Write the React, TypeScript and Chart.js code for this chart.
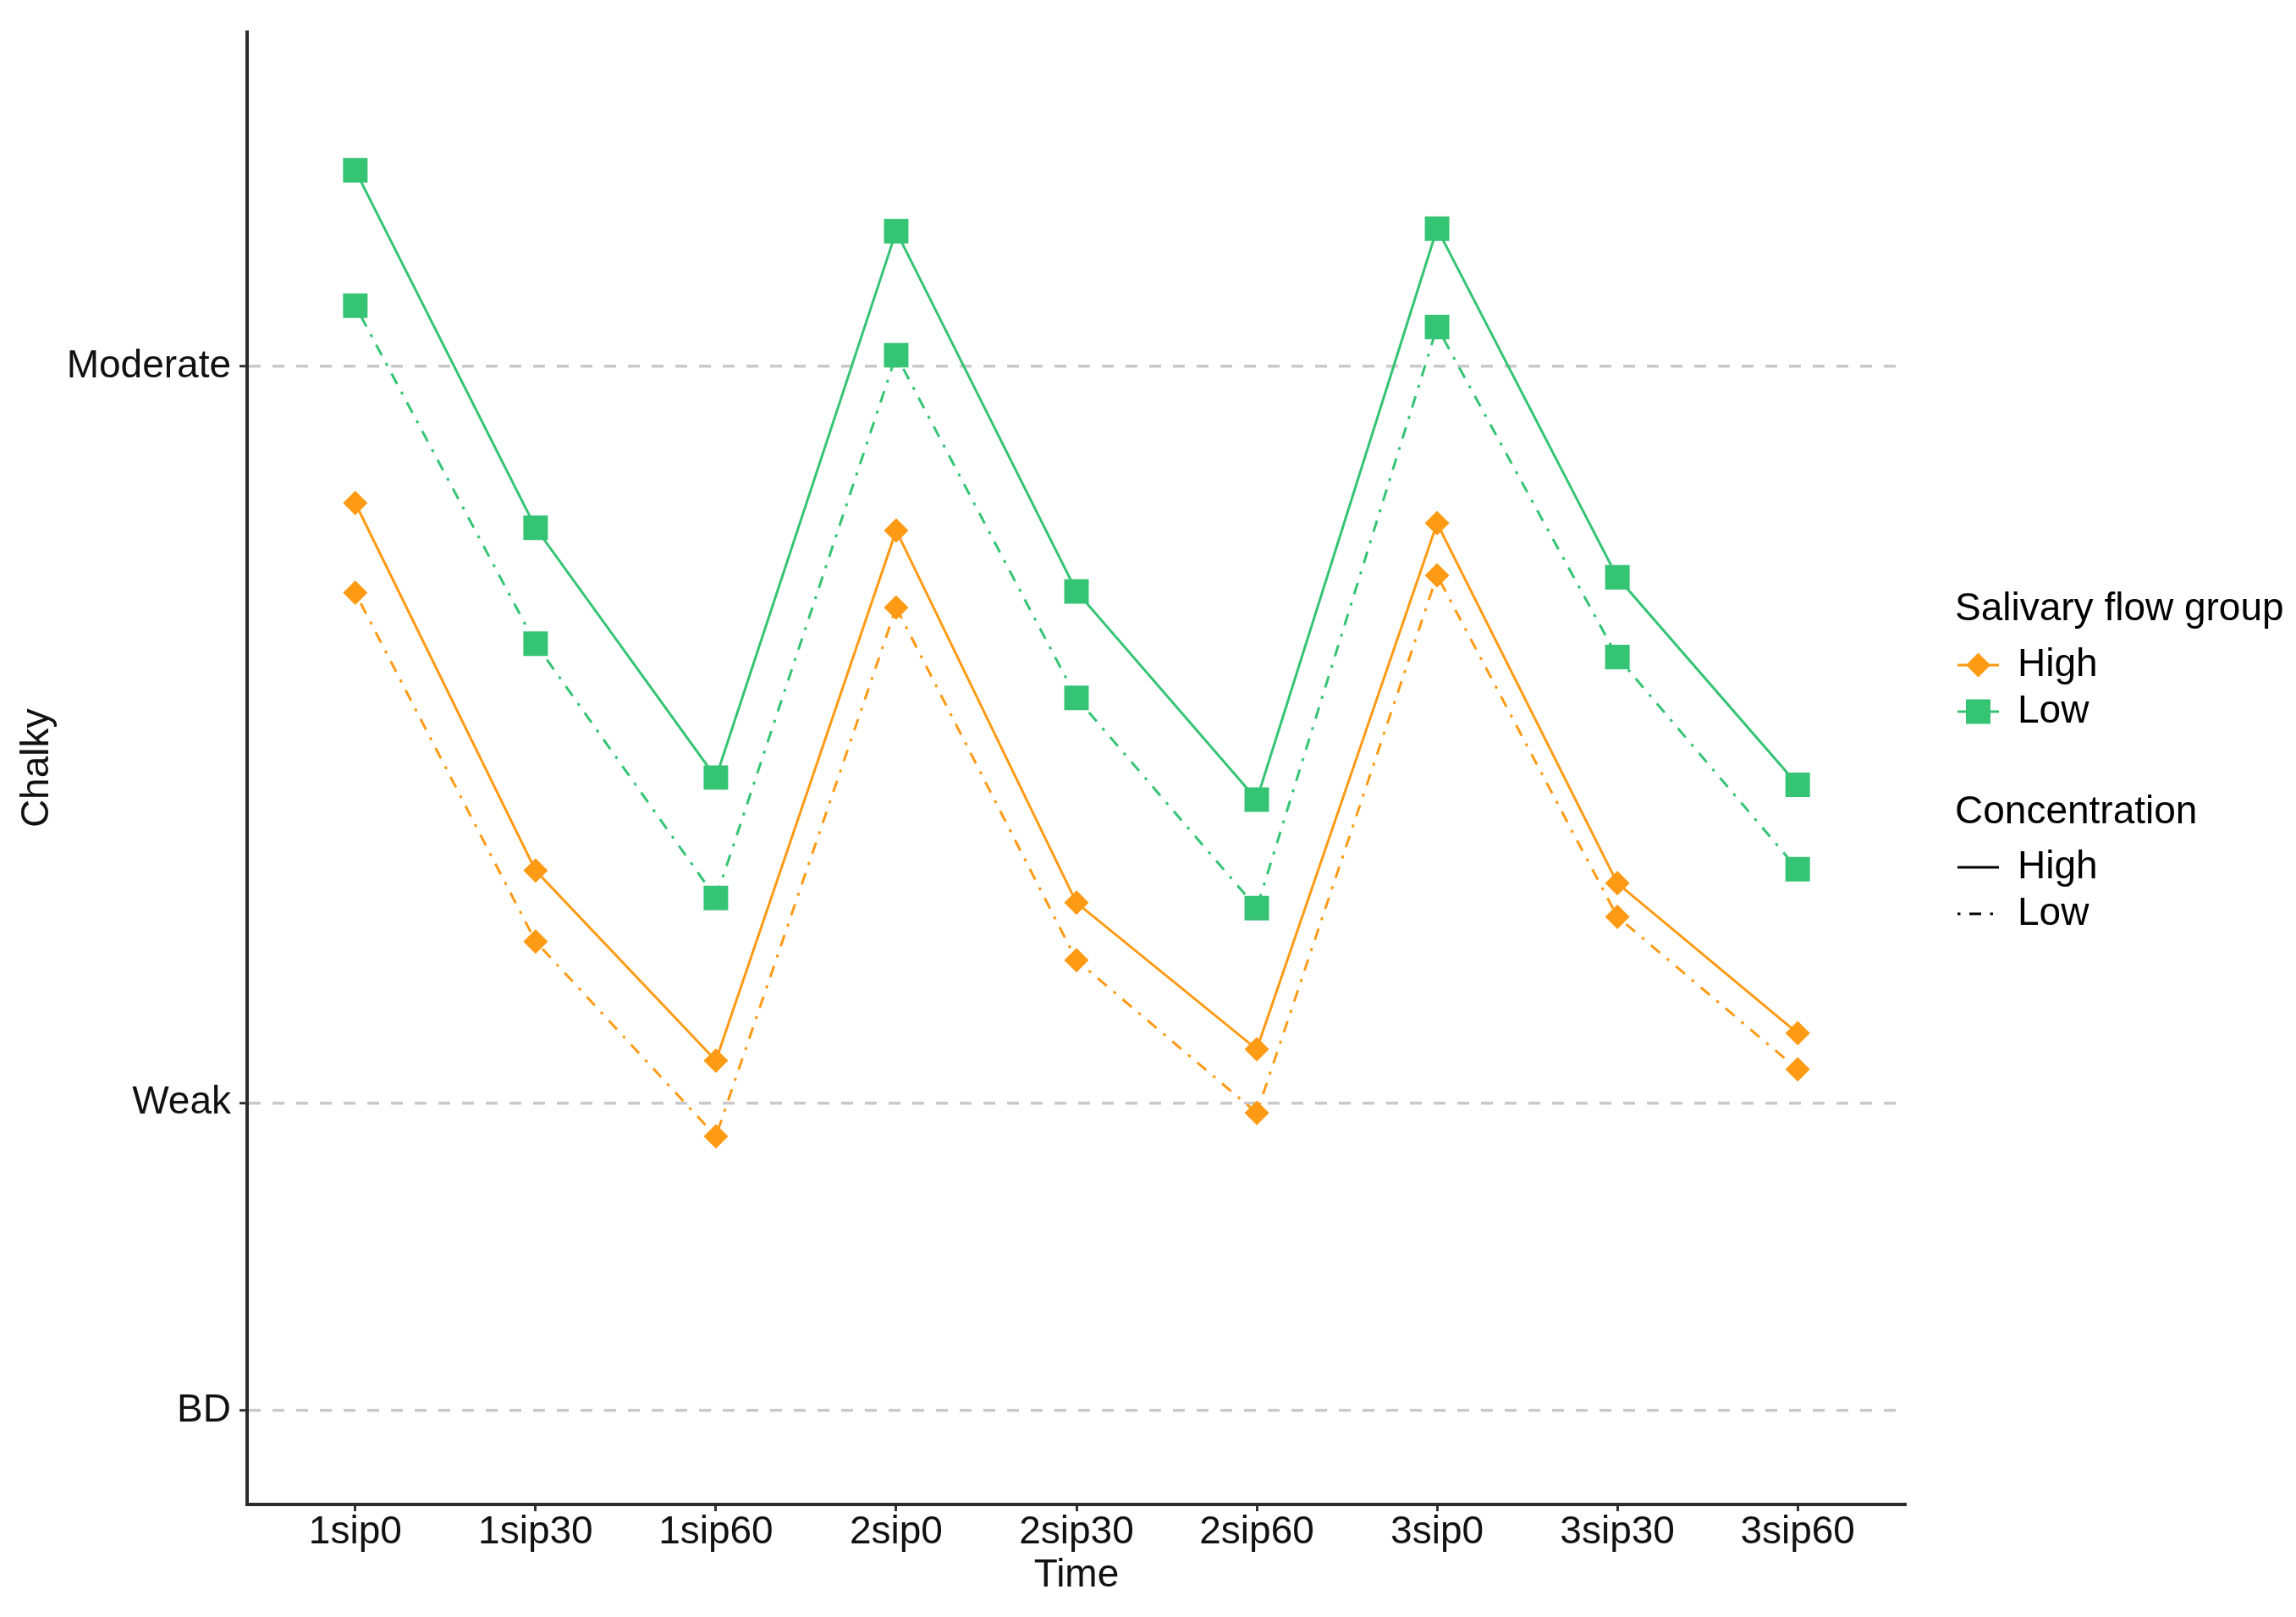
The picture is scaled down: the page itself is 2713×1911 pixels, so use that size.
import React, { useEffect, useRef } from "react";
import { Chart, registerables } from "chart.js";

Chart.register(...registerables);

const FONT = '"Liberation Sans", Arial, Helvetica, sans-serif';

const categories = ["1sip0", "1sip30", "1sip60", "2sip0", "2sip30", "2sip60", "3sip0", "3sip30", "3sip60"];
const yTickValues = [1.4, 6, 17];
const yTickLabels = ["BD", "Weak", "Moderate"];

const lowFlowHighConc = [19.93, 14.59, 10.86, 19.02, 13.64, 10.53, 19.06, 13.85, 10.75];
const lowFlowLowConc = [17.91, 12.86, 9.06, 17.17, 12.05, 8.91, 17.59, 12.66, 9.49];
const highFlowHighConc = [14.96, 9.47, 6.63, 14.55, 8.99, 6.8, 14.66, 9.28, 7.04];
const highFlowLowConc = [13.62, 8.41, 5.5, 13.4, 8.13, 5.85, 13.88, 8.78, 6.5];

const ORANGE = "#FF9A14";
const GREEN = "#35C474";
const DOTDASH = [3.5, 10.5, 14, 10.5];

const toPoints = (vals: number[]) => vals.map((v, i) => ({ x: i, y: v }));

const legendPlugin = {
  id: "ggLegend",
  afterDraw(chart: any) {
    const ctx = chart.ctx as CanvasRenderingContext2D;
    const tx = 2310;
    const lx1 = 2313;
    const lx2 = 2362;
    const cx = 2337.5;
    const textX = 2384;
    const yT1 = 720;
    const yH1 = 786;
    const yL1 = 841;
    const yT2 = 960;
    const yH2 = 1025;
    const yL2 = 1080;
    ctx.save();
    ctx.font = `46px ${FONT}`;
    ctx.fillStyle = "#000";
    ctx.textBaseline = "middle";
    ctx.textAlign = "left";
    ctx.fillText("Salivary flow group", tx, yT1);
    ctx.fillText("High", textX, yH1);
    ctx.fillText("Low", textX, yL1);
    ctx.fillText("Concentration", tx, yT2);
    ctx.fillText("High", textX, yH2);
    ctx.fillText("Low", textX, yL2);

    // High flow: orange line + diamond
    ctx.lineWidth = 3;
    ctx.strokeStyle = ORANGE;
    ctx.beginPath();
    ctx.moveTo(lx1, yH1);
    ctx.lineTo(lx2, yH1);
    ctx.stroke();
    ctx.fillStyle = ORANGE;
    ctx.beginPath();
    ctx.moveTo(cx - 14.5, yH1);
    ctx.lineTo(cx, yH1 - 14.5);
    ctx.lineTo(cx + 14.5, yH1);
    ctx.lineTo(cx, yH1 + 14.5);
    ctx.closePath();
    ctx.fill();

    // Low flow: green line + square
    ctx.strokeStyle = GREEN;
    ctx.beginPath();
    ctx.moveTo(lx1, yL1);
    ctx.lineTo(lx2, yL1);
    ctx.stroke();
    ctx.fillStyle = GREEN;
    ctx.fillRect(cx - 14.5, yL1 - 14.5, 29, 29);

    // Concentration lines
    ctx.strokeStyle = "#000";
    ctx.lineWidth = 3;
    ctx.beginPath();
    ctx.moveTo(lx1, yH2);
    ctx.lineTo(lx2, yH2);
    ctx.stroke();
    ctx.setLineDash(DOTDASH);
    ctx.beginPath();
    ctx.moveTo(lx1, yL2);
    ctx.lineTo(lx2, yL2);
    ctx.stroke();
    ctx.restore();
  },
};

export default function App() {
  const canvasRef = useRef<HTMLCanvasElement | null>(null);

  useEffect(() => {
    if (!canvasRef.current) return;
    const chart = new Chart(canvasRef.current, {
      type: "line",
      data: {
        datasets: [
          {
            label: "Low flow / High conc",
            data: toPoints(lowFlowHighConc),
            borderColor: GREEN,
            backgroundColor: GREEN,
            borderWidth: 3,
            pointStyle: "rect",
            pointRadius: 20.5,
            pointBorderWidth: 0,
            pointBackgroundColor: GREEN,
            tension: 0,
          },
          {
            label: "Low flow / Low conc",
            data: toPoints(lowFlowLowConc),
            borderColor: GREEN,
            backgroundColor: GREEN,
            borderWidth: 3,
            borderDash: DOTDASH,
            pointStyle: "rect",
            pointRadius: 20.5,
            pointBorderWidth: 0,
            pointBackgroundColor: GREEN,
            tension: 0,
          },
          {
            label: "High flow / High conc",
            data: toPoints(highFlowHighConc),
            borderColor: ORANGE,
            backgroundColor: ORANGE,
            borderWidth: 3,
            pointStyle: "rectRot",
            pointRadius: 14.5,
            pointBorderWidth: 0,
            pointBackgroundColor: ORANGE,
            tension: 0,
          },
          {
            label: "High flow / Low conc",
            data: toPoints(highFlowLowConc),
            borderColor: ORANGE,
            backgroundColor: ORANGE,
            borderWidth: 3,
            borderDash: DOTDASH,
            pointStyle: "rectRot",
            pointRadius: 14.5,
            pointBorderWidth: 0,
            pointBackgroundColor: ORANGE,
            tension: 0,
          },
        ],
      },
      options: {
        animation: false,
        responsive: true,
        maintainAspectRatio: false,
        devicePixelRatio: 1,
        layout: { padding: { left: 0, top: 24, right: 461, bottom: 0 } },
        plugins: {
          legend: { display: false },
          tooltip: { enabled: false },
          title: { display: false },
        },
        scales: {
          x: {
            type: "linear",
            min: -0.6,
            max: categories.length - 1 + 0.6,
            afterBuildTicks: (scale: any) => {
              scale.ticks = categories.map((_, i) => ({ value: i }));
            },
            afterFit: (scale: any) => {
              scale.height = 133;
            },
            ticks: {
              autoSkip: false,
              maxRotation: 0,
              padding: -2,
              color: "#111",
              font: { family: FONT, size: 46 },
              callback: (v: any) => categories[Math.round(Number(v))] ?? "",
            },
            grid: {
              drawOnChartArea: false,
              drawTicks: true,
              tickLength: 8,
              tickColor: "#333",
              tickWidth: 3,
            },
            border: { display: true, color: "#2b2b2b", width: 4 },
            title: {
              display: true,
              text: "Time",
              color: "#111",
              font: { family: FONT, size: 46 },
              padding: { top: 0, bottom: 21 },
            },
          },
          y: {
            type: "linear",
            min: 0,
            max: 22,
            afterBuildTicks: (scale: any) => {
              scale.ticks = yTickValues.map((v) => ({ value: v }));
            },
            afterFit: (scale: any) => {
              scale.width = 292;
            },
            ticks: {
              autoSkip: false,
              padding: 10,
              color: "#111",
              font: { family: FONT, size: 46 },
              callback: (v: any) => {
                const idx = yTickValues.findIndex((t) => Math.abs(t - Number(v)) < 1e-6);
                return idx >= 0 ? yTickLabels[idx] : "";
              },
            },
            grid: {
              drawOnChartArea: true,
              drawTicks: true,
              tickLength: 9,
              tickColor: "#333",
              tickWidth: 3,
              color: "#c9c9c9",
              lineWidth: 3.5,
            },
            border: { display: true, color: "#2b2b2b", width: 4, dash: [14, 14] },
            title: {
              display: true,
              text: "Chalky",
              color: "#111",
              font: { family: FONT, size: 46 },
              padding: { top: 17, bottom: 0 },
            },
          },
        },
      },
      plugins: [legendPlugin],
    });
    return () => chart.destroy();
  }, []);

  return (
    <div style={{ position: "fixed", left: 0, top: 0, width: "100vw", height: "100vh", background: "#fff" }}>
      <canvas ref={canvasRef} />
    </div>
  );
}
